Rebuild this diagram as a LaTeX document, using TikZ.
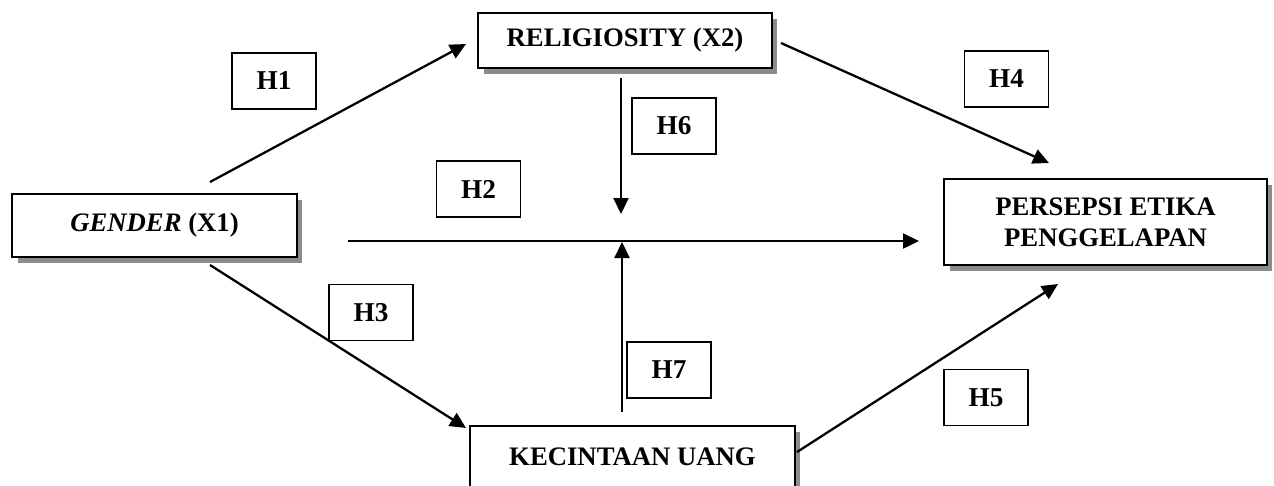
\documentclass[tikz,border=0pt]{standalone}
\usepackage{fontspec}
\setmainfont{Liberation Serif}
\usetikzlibrary{arrows.meta,shadows}

\begin{document}
\begin{tikzpicture}[x=0.02cm,y=-0.02cm,->,>={Triangle[length=0.32cm,width=0.3cm]},
        line width=1.3pt,font=\fontsize{15.2}{17.5}\selectfont\bfseries]
    \tikzstyle{var}=[draw,line width=1.4pt,fill=white,align=center,inner sep=0pt,
        drop shadow={shadow xshift=0.11cm,shadow yshift=-0.11cm,fill=black!45,opacity=1}]
    \tikzstyle{hyp}=[draw,line width=0.8pt,minimum width=1.68cm,minimum height=1.12cm,
        inner sep=0pt,font=\fontsize{15.5}{18}\selectfont\bfseries]

    \useasboundingbox (0,0) rectangle (1274,485);

    % variables
    \node[var,minimum width=5.7cm,minimum height=1.26cm] (gender) at (154.5,225.5) {\textit{GENDER} (X1)};
    \node[var,minimum width=5.88cm,minimum height=1.1cm] (relig) at (625,40.5) {RELIGIOSITY (X2)};
    \node[var,minimum width=6.5cm,minimum height=1.24cm] (uang) at (632.5,457) {KECINTAAN UANG};
    \node[var,minimum width=6.46cm,minimum height=1.72cm] (etika) at (1105.5,222) {PERSEPSI ETIKA\\PENGGELAPAN};

    % hypotheses
    \node[hyp] (h1) at (274,81) {H1};
    \node[hyp] (h2) at (478.5,189) {H2};
    \node[hyp] (h3) at (371,312.5) {H3};
    \node[hyp] (h4) at (1006.5,79) {H4};
    \node[hyp] (h5) at (986,397.5) {H5};
    \node[hyp] (h6) at (674,126) {H6};
    \node[hyp] (h7) at (669,370) {H7};

    % free ends of the paths
    \coordinate (gender-up) at (210,182);
    \coordinate (relig-in) at (466,44);
    \coordinate (relig-out) at (781,43);
    \coordinate (etika-up) at (1049,163);
    \coordinate (gender-down) at (210,265);
    \coordinate (uang-in) at (466,428);
    \coordinate (uang-out) at (797,452);
    \coordinate (etika-down) at (1058,284);
    \coordinate (gender-mid) at (348,241);
    \coordinate (etika-mid) at (919,241);
    \coordinate (relig-down) at (621,78);
    \coordinate (cross-up) at (621,214);
    \coordinate (uang-up) at (622,412);
    \coordinate (cross) at (622,242);

    \draw (gender-up) -- (relig-in);
    \draw (relig-out) -- (etika-up);
    \draw (gender-down) -- (uang-in);
    \draw (uang-out) -- (etika-down);
    \draw (gender-mid) -- (etika-mid);
    \draw (relig-down) -- (cross-up);
    \draw (uang-up) -- (cross);
\end{tikzpicture}
\end{document}
